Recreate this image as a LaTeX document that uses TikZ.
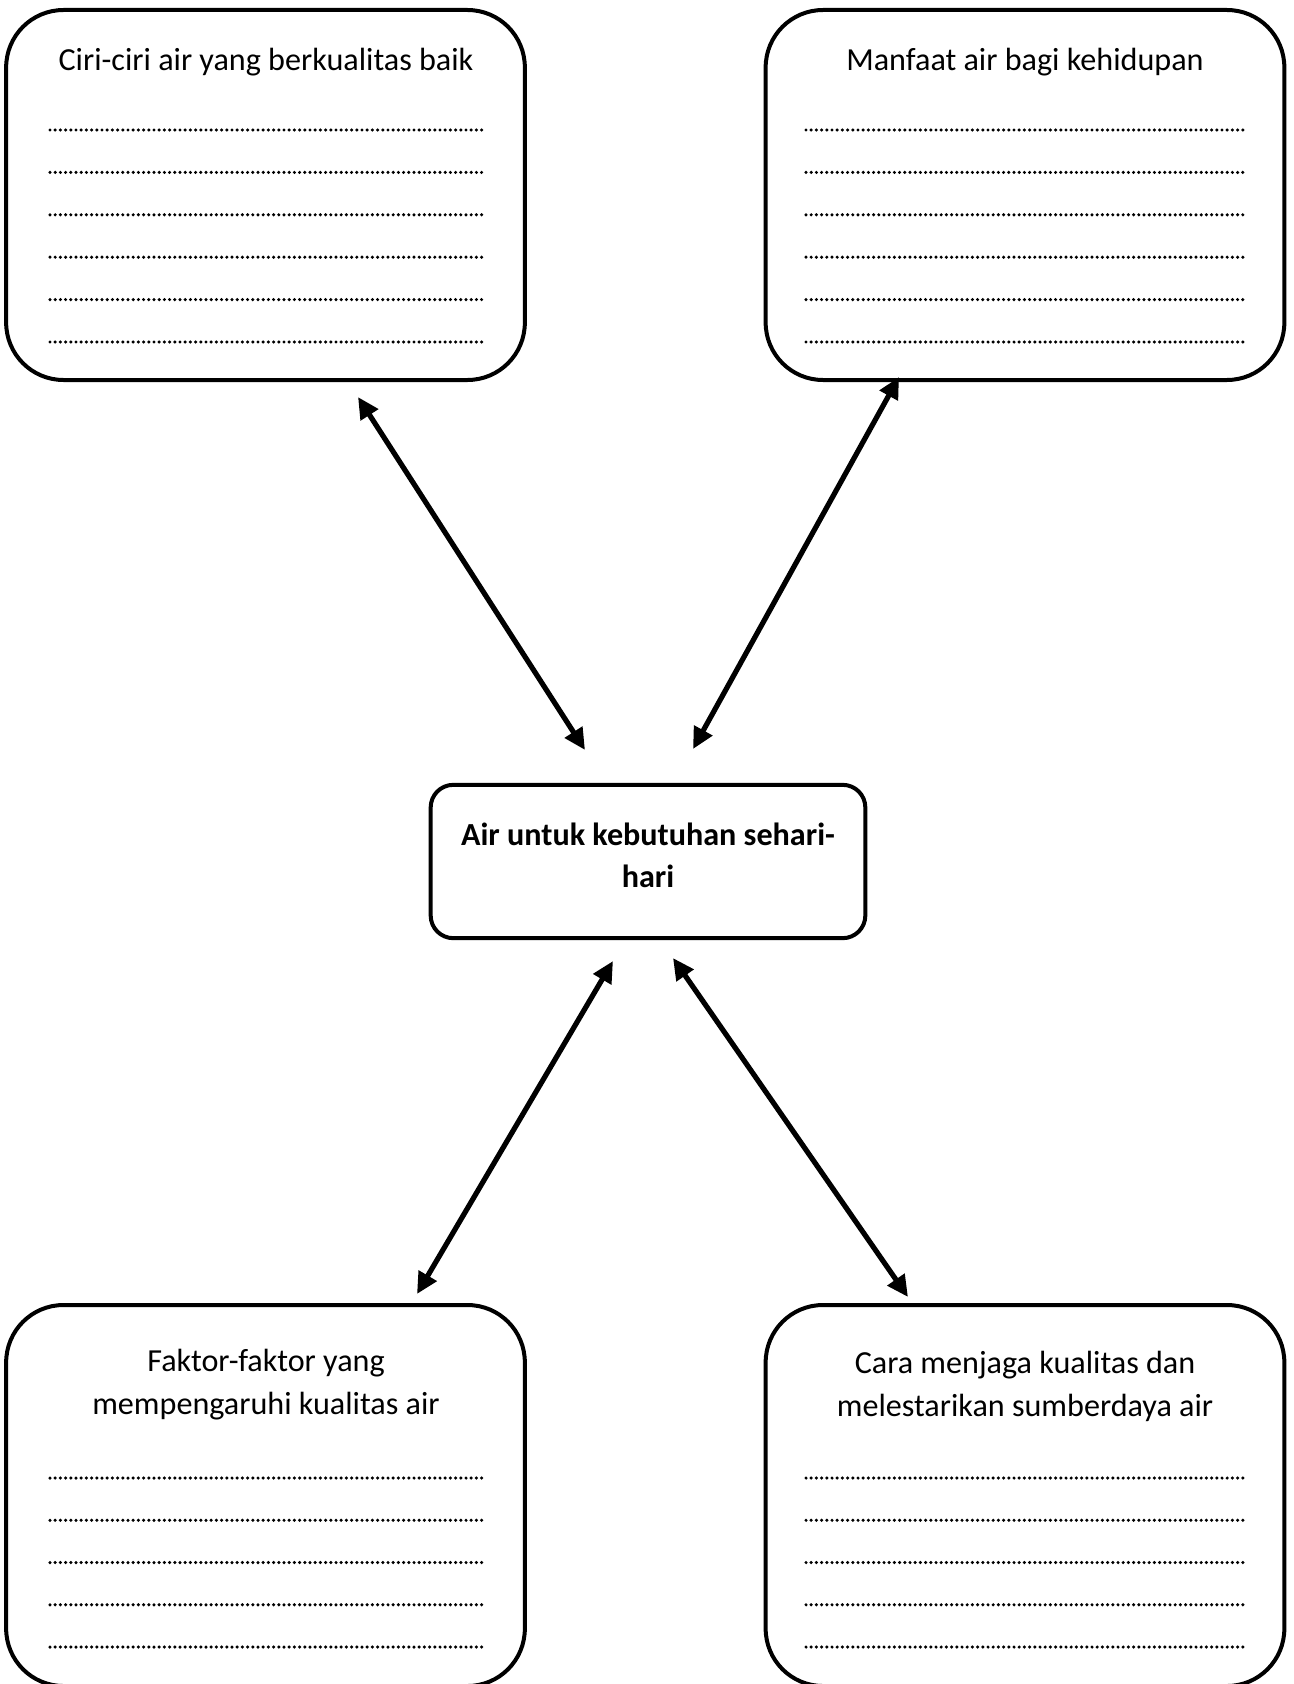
\documentclass[tikz,border=0pt]{standalone}
\usepackage{fontspec}
\setmainfont{Carlito}
\usepackage{tikz}
\usetikzlibrary{arrows.meta}

\begin{document}
\begin{tikzpicture}[x=0.75pt,y=-0.75pt,
   kotak/.style={draw,line width=3pt,rounded corners=43pt,minimum width=389pt,minimum height=#1,inner sep=0pt},
   pusat/.style={draw,line width=3pt,rounded corners=17pt,minimum width=326pt,minimum height=115pt,inner sep=0pt},
   judul/.style={font=\fontsize{24.1}{32.3}\selectfont,align=center,inner sep=0pt},
   titik/.style={line width=2.6pt,line cap=round,dash pattern=on 0pt off 3.9pt},
   panah/.style={{Triangle[length=16pt,width=15pt]}-{Triangle[length=16pt,width=15pt]},line width=3.9pt}]

   \useasboundingbox (0,0) rectangle (1293,1684);

   % kotak atas
   \node[kotak=277.5pt] (ciri) at (265.5,195) {};
   \node[judul] (ciriJ) at (266,62) {Ciri-ciri air yang berkualitas baik};
   \foreach \y in {130,172.4,...,342}
     \draw[titik] (50,\y) -- (485,\y);

   \node[kotak=277.5pt] (manfaat) at (1025,195) {};
   \node[judul] (manfaatJ) at (1025,62) {Manfaat air bagi kehidupan};
   \foreach \y in {130,172.4,...,342}
     \draw[titik] (806,\y) -- (1243,\y);

   % tengah
   \node[pusat] (tengah) at (648,861.5) {};
   \node[judul,font=\fontsize{24.1}{31.5}\selectfont\bfseries] (tengahJ) at (648,855) {Air untuk kebutuhan sehari-\\hari};

   % kotak bawah
   \node[kotak=285.75pt] (faktor) at (265.5,1495.5) {};
   \node[judul] (faktorJ) at (266,1385) {Faktor-faktor yang\\mempengaruhi kualitas air};
   \foreach \y in {1478,1520.25,...,1647}
     \draw[titik] (50,\y) -- (485,\y);

   \node[kotak=285.75pt] (cara) at (1025,1495.5) {};
   \node[judul] (caraJ) at (1025,1386.5) {Cara menjaga kualitas dan\\melestarikan sumberdaya air};
   \foreach \y in {1478,1520.25,...,1647}
     \draw[titik] (806,\y) -- (1243,\y);

   % panah
   \coordinate (a1) at (358,397);
   \coordinate (a2) at (585,750);
   \coordinate (b1) at (899,377);
   \coordinate (b2) at (693,749);
   \coordinate (c1) at (613,961);
   \coordinate (c2) at (417,1294);
   \coordinate (d1) at (673,958);
   \coordinate (d2) at (908,1297);
   \draw[panah] (a1) -- (a2);
   \draw[panah] (b1) -- (b2);
   \draw[panah] (c1) -- (c2);
   \draw[panah] (d1) -- (d2);
   %\draw[ultra thin] (0,0) rectangle (1293,1684);
\end{tikzpicture}
\end{document}
